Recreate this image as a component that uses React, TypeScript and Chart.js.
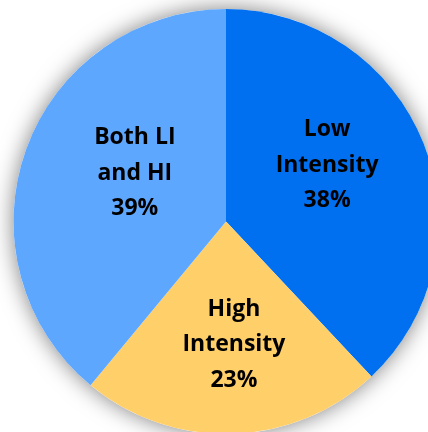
import React, { useEffect, useRef } from "react";
import { Chart, registerables } from "chart.js";

Chart.register(...registerables);

const categories = ["Low Intensity", "High Intensity", "Both LI and HI"];
const labelLines = [["Low", "Intensity", "38%"], ["High", "Intensity", "23%"], ["Both LI", "and HI", "39%"]];
const shares = [38, 23, 39];
const colors = ["#0070F0", "#FFCF6A", "#5EA7FF"];

// label placement: angle nudge (deg) from slice middle, radius fraction
const labelNudge = [
  { dAngle: -7.6, r: 0.545 },
  { dAngle: -1.9, r: 0.58 },
  { dAngle: 8, r: 0.485 },
];

const shadowPlugin = {
  id: "pieShadow",
  beforeDatasetsDraw(chart: any) {
    const arc = chart.getDatasetMeta(0).data[0];
    if (!arc) return;
    const { x, y, outerRadius } = arc.getProps(["x", "y", "outerRadius"], true);
    const ctx = chart.ctx;
    ctx.save();
    ctx.shadowColor = "rgba(0,0,0,0.5)";
    ctx.shadowBlur = 22;
    ctx.fillStyle = "#ffffff";
    ctx.beginPath();
    ctx.arc(x, y, outerRadius, 0, Math.PI * 2);
    ctx.fill();
    ctx.restore();
  },
};

const labelPlugin = {
  id: "sliceLabels",
  afterDatasetsDraw(chart: any) {
    const ctx = chart.ctx;
    const meta = chart.getDatasetMeta(0);
    ctx.save();
    ctx.font = "bold 23px 'Open Sans'";
    ctx.fillStyle = "#000000";
    ctx.textAlign = "center";
    ctx.textBaseline = "middle";
    meta.data.forEach((arc: any, i: number) => {
      const { x, y, startAngle, endAngle, outerRadius } = arc.getProps(
        ["x", "y", "startAngle", "endAngle", "outerRadius"],
        true
      );
      const mid = (startAngle + endAngle) / 2 + (labelNudge[i].dAngle * Math.PI) / 180;
      const r = outerRadius * labelNudge[i].r;
      const cx = x + Math.cos(mid) * r;
      const cy = y + Math.sin(mid) * r;
      const lines = labelLines[i];
      const lh = 35.5;
      lines.forEach((t, k) => {
        ctx.fillText(t, cx, cy + (k - (lines.length - 1) / 2) * lh);
      });
    });
    ctx.restore();
  },
};

export default function App() {
  const ref = useRef<HTMLCanvasElement>(null);
  useEffect(() => {
    if (!ref.current) return;
    const chart = new Chart(ref.current, {
      type: "pie",
      data: {
        labels: categories,
        datasets: [
          {
            data: shares,
            backgroundColor: colors,
            borderWidth: 0,
            hoverOffset: 0,
            offset: 0,
          },
        ],
      },
      options: {
        responsive: false,
        animation: false,
        layout: { padding: 9 },
        plugins: { legend: { display: false }, tooltip: { enabled: false } },
      },
      plugins: [shadowPlugin, labelPlugin],
    });
    return () => chart.destroy();
  }, []);
  return (
    <div
      style={{
        position: "fixed",
        left: 0,
        top: 0,
        width: 428,
        height: 432,
        overflow: "hidden",
        background: "#ffffff",
      }}
    >
      <canvas ref={ref} width={452} height={443} style={{ display: "block" }} />
    </div>
  );
}
